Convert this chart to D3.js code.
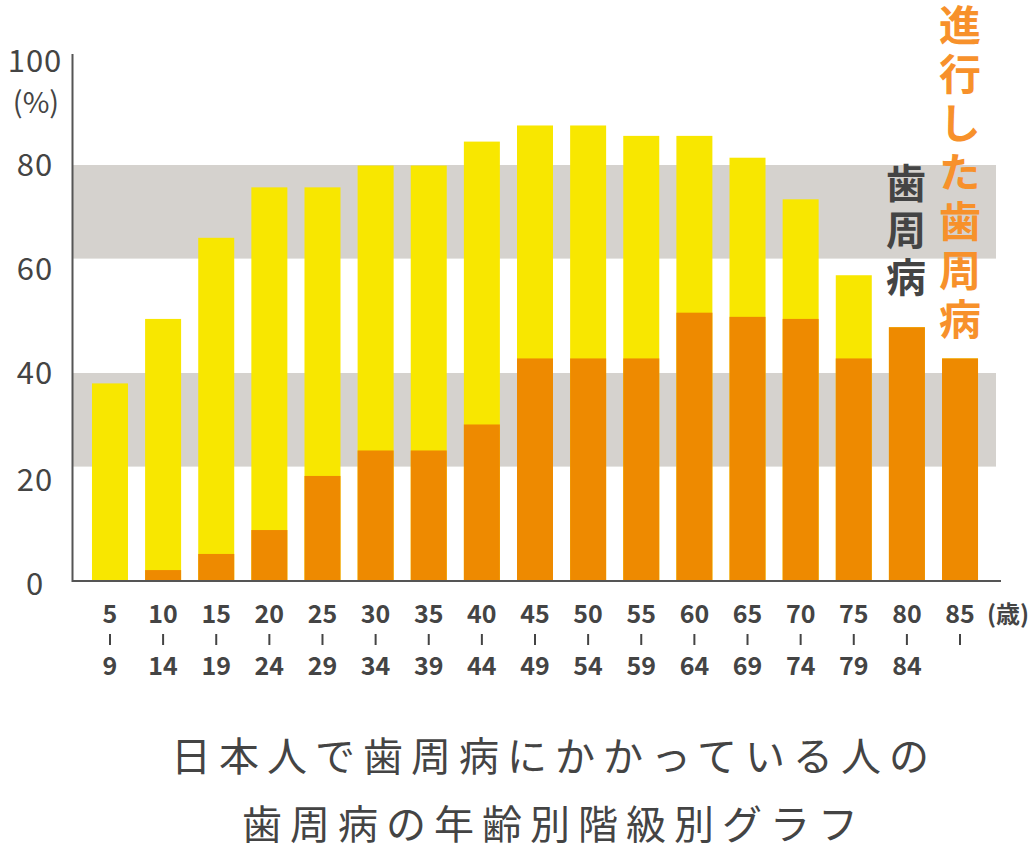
<!DOCTYPE html>
<html>
<head>
<meta charset="utf-8">
<script src="https://cdn.jsdelivr.net/npm/d3@7"></script>
<style>
  html, body { margin: 0; padding: 0; background: #fff; }
  svg { display: block; font-family: 'Noto Sans CJK JP', 'Noto Sans', sans-serif; }
</style>
</head>
<body>
<svg id="chart" width="1036" height="858"></svg>
<script>
// age groups (start / end of each class)
const ageFrom = ['5', '10', '15', '20', '25', '30', '35', '40', '45', '50', '55', '60', '65', '70', '75', '80', '85'];
const ageTo = ['9', '14', '19', '24', '29', '34', '39', '44', '49', '54', '59', '64', '69', '74', '79', '84', ''];

// share with periodontal disease (%), all stages
const totalRate = [38, 50.4, 66, 75.7, 75.7, 79.9, 79.9, 84.5, 87.6, 87.6, 85.6, 85.6, 81.4, 73.4, 58.8, 48.8, 42.8];
// share with advanced periodontal disease (%)
const advancedRate = [0, 2.1, 5.2, 9.8, 20.2, 25.1, 25.1, 30.1, 42.8, 42.8, 42.8, 51.6, 50.8, 50.4, 42.8, 48.8, 42.8];

const yTicks = [0, 20, 40, 60, 80, 100];
const bands = [[62, 80], [22, 40]];

const svg = d3.select('#chart');
const textColor = '#444';

const y = d3.scaleLinear().domain([0, 100]).range([581, 61]);
const x = d3.scaleBand()
  .domain(ageFrom)
  .range([72, 998])
  .paddingInner(0.3224)
  .paddingOuter(0.376);

// grey background bands
svg.append('g')
  .selectAll('rect')
  .data(bands)
  .join('rect')
  .attr('x', 72)
  .attr('width', 996 - 72)
  .attr('y', (d) => y(d[1]))
  .attr('height', (d) => y(d[0]) - y(d[1]))
  .attr('fill', '#d5d2ce');

// bars
const bars = svg.append('g');
bars.selectAll('rect.total')
  .data(ageFrom)
  .join('rect')
  .attr('class', 'total')
  .attr('x', (d) => x(d))
  .attr('width', x.bandwidth())
  .attr('y', (d, i) => y(totalRate[i]))
  .attr('height', (d, i) => y(0) - y(totalRate[i]))
  .attr('fill', '#f8e700');

bars.selectAll('rect.adv')
  .data(ageFrom)
  .join('rect')
  .attr('class', 'adv')
  .attr('x', (d) => x(d))
  .attr('width', x.bandwidth())
  .attr('y', (d, i) => y(advancedRate[i]))
  .attr('height', (d, i) => y(0) - y(advancedRate[i]))
  .attr('fill', '#ee8a00');

// axes
svg.append('line')
  .attr('x1', 72.5).attr('x2', 72.5)
  .attr('y1', 54).attr('y2', y(0) + 1)
  .attr('stroke', '#555').attr('stroke-width', 2);
svg.append('line')
  .attr('x1', 72).attr('x2', 1001)
  .attr('y1', y(0)).attr('y2', y(0))
  .attr('stroke', '#555').attr('stroke-width', 2);

// y tick labels
svg.append('g')
  .selectAll('text')
  .data(yTicks)
  .join('text')
  .attr('x', 35)
  .attr('y', (d) => y(d) - (d >= 40 ? 3 : 0))
  .attr('text-anchor', 'middle')
  .attr('dominant-baseline', 'central')
  .attr('font-size', 31)
  .attr('letter-spacing', 1)
  .attr('fill', textColor)
  .text((d) => d);

svg.append('text')
  .attr('x', 36)
  .attr('y', 100)
  .attr('text-anchor', 'middle')
  .attr('dominant-baseline', 'central')
  .attr('font-size', 29)
  .attr('fill', textColor)
  .text('(%)');

// x labels: start / dash / end
const xl = svg.append('g')
  .attr('fill', textColor)
  .attr('font-weight', 'bold')
  .attr('font-size', 25)
  .attr('text-anchor', 'middle');

xl.selectAll('text.from')
  .data(ageFrom)
  .join('text')
  .attr('class', 'from')
  .attr('x', (d) => x(d) + x.bandwidth() / 2)
  .attr('y', 623)
  .text((d) => d);

xl.selectAll('text.to')
  .data(ageTo)
  .join('text')
  .attr('class', 'to')
  .attr('x', (d, i) => x(ageFrom[i]) + x.bandwidth() / 2)
  .attr('y', 675)
  .text((d) => d);

svg.append('g')
  .selectAll('line')
  .data(ageFrom)
  .join('line')
  .attr('x1', (d) => x(d) + x.bandwidth() / 2)
  .attr('x2', (d) => x(d) + x.bandwidth() / 2)
  .attr('y1', 634)
  .attr('y2', 645)
  .attr('stroke', textColor)
  .attr('stroke-width', 2);

svg.append('text')
  .attr('x', 1008)
  .attr('y', 623)
  .attr('text-anchor', 'middle')
  .attr('font-size', 24)
  .attr('font-weight', 'bold')
  .attr('fill', textColor)
  .text('(歳)');

// vertical legend labels
function verticalText(str, cx, top, size, spacing, color) {
  svg.append('text')
    .attr('x', cx)
    .attr('y', top)
    .style('writing-mode', 'vertical-rl')
    .attr('font-size', size)
    .attr('letter-spacing', spacing)
    .attr('font-weight', 'bold')
    .attr('fill', color)
    .text(str);
}
verticalText('進行した歯周病', 960, 4, 42, 7, '#f7912b');
verticalText('歯周病', 906, 163, 40, 7, textColor);

// title
const title = ['日本人で歯周病にかかっている人の', '歯周病の年齢別階級別グラフ'];
svg.append('g')
  .selectAll('text')
  .data(title)
  .join('text')
  .attr('x', 554)
  .attr('y', (d, i) => 754 + i * 68)
  .attr('text-anchor', 'middle')
  .attr('dominant-baseline', 'central')
  .attr('font-size', 40)
  .attr('letter-spacing', 8)
  .attr('fill', textColor)
  .text((d) => d);
</script>
</body>
</html>
